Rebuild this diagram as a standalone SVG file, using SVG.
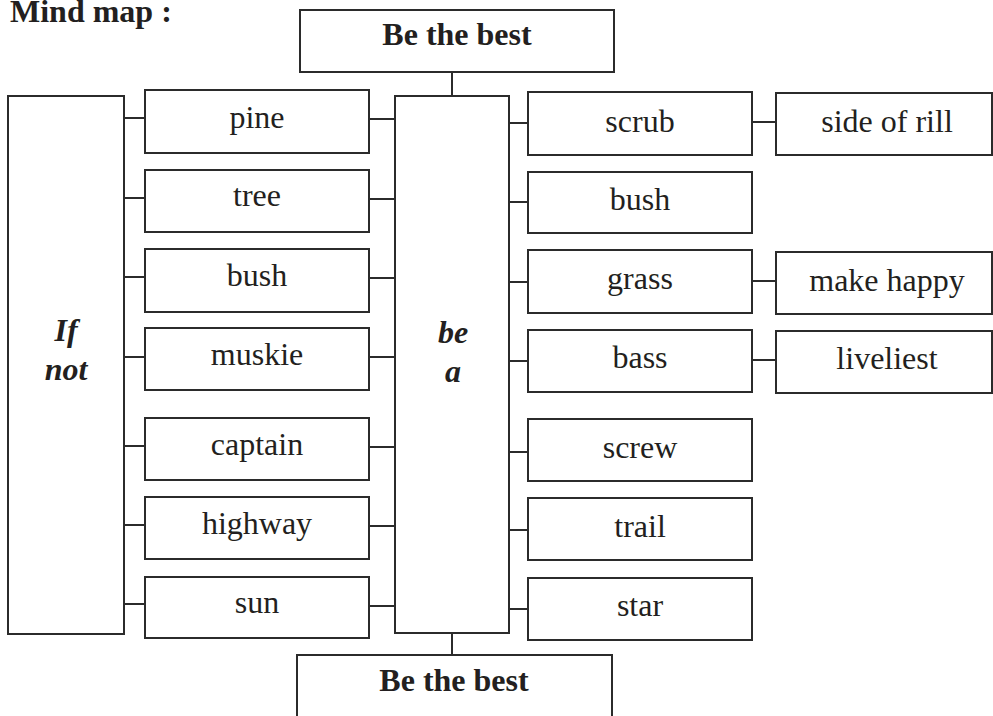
<svg xmlns="http://www.w3.org/2000/svg" width="993" height="716" viewBox="0 0 993 716">
  <style>
    .box { fill: #ffffff; stroke: #2b2b2b; stroke-width: 2; }
    .link { stroke: #2b2b2b; stroke-width: 2; fill: none; }
    .lbl { font-family: "Liberation Serif", "Times New Roman", serif; font-size: 32px; fill: #231f20; text-anchor: middle; }
    .head { font-family: "Liberation Serif", "Times New Roman", serif; font-size: 32px; font-weight: bold; fill: #231f20; }
    .key { font-family: "Liberation Serif", "Times New Roman", serif; font-size: 32px; font-weight: bold; font-style: italic; fill: #231f20; text-anchor: middle; }
  </style>
  <rect width="993" height="716" fill="#ffffff"/>

  <text class="head" x="10" y="22">Mind map :</text>

  <!-- connectors -->
  <g id="connectors">
    <!-- title boxes to centre column -->
    <line class="link" x1="452" y1="72" x2="452" y2="96"/>
    <line class="link" x1="452" y1="633" x2="452" y2="655"/>
    <!-- If-not column to left words -->
    <line class="link" x1="124" y1="118" x2="145" y2="118"/>
    <line class="link" x1="124" y1="198" x2="145" y2="198"/>
    <line class="link" x1="124" y1="277" x2="145" y2="277"/>
    <line class="link" x1="124" y1="357" x2="145" y2="357"/>
    <line class="link" x1="124" y1="446" x2="145" y2="446"/>
    <line class="link" x1="124" y1="525" x2="145" y2="525"/>
    <line class="link" x1="124" y1="604" x2="145" y2="604"/>
    <!-- left words to be-a column -->
    <line class="link" x1="369" y1="119" x2="395" y2="119"/>
    <line class="link" x1="369" y1="199" x2="395" y2="199"/>
    <line class="link" x1="369" y1="278" x2="395" y2="278"/>
    <line class="link" x1="369" y1="357" x2="395" y2="357"/>
    <line class="link" x1="369" y1="447" x2="395" y2="447"/>
    <line class="link" x1="369" y1="526" x2="395" y2="526"/>
    <line class="link" x1="369" y1="606" x2="395" y2="606"/>
    <!-- be-a column to right words -->
    <line class="link" x1="509" y1="123" x2="528" y2="123"/>
    <line class="link" x1="509" y1="202" x2="528" y2="202"/>
    <line class="link" x1="509" y1="282" x2="528" y2="282"/>
    <line class="link" x1="509" y1="361" x2="528" y2="361"/>
    <line class="link" x1="509" y1="452" x2="528" y2="452"/>
    <line class="link" x1="509" y1="530" x2="528" y2="530"/>
    <line class="link" x1="509" y1="609" x2="528" y2="609"/>
    <!-- right words to far-right words -->
    <line class="link" x1="752" y1="122" x2="776" y2="122"/>
    <line class="link" x1="752" y1="281" x2="776" y2="281"/>
    <line class="link" x1="752" y1="360" x2="776" y2="360"/>
  </g>

  <!-- title boxes -->
  <g id="top-title">
    <rect class="box" x="300" y="10" width="314" height="62"/>
    <text class="head" x="457" y="45" text-anchor="middle">Be the best</text>
  </g>
  <g id="bottom-title">
    <rect class="box" x="297" y="655" width="315" height="70"/>
    <text class="head" x="454" y="691" text-anchor="middle">Be the best</text>
  </g>

  <!-- tall columns -->
  <g id="if-not">
    <rect class="box" x="8" y="96" width="116" height="538"/>
    <text class="key" x="66" y="341">If</text>
    <text class="key" x="66" y="380">not</text>
  </g>
  <g id="be-a">
    <rect class="box" x="395" y="96" width="114" height="537"/>
    <text class="key" x="453" y="343">be</text>
    <text class="key" x="453" y="382">a</text>
  </g>

  <!-- left words -->
  <g id="pine"><rect class="box" x="145" y="90" width="224" height="63"/><text class="lbl" x="257" y="128">pine</text></g>
  <g id="tree"><rect class="box" x="145" y="170" width="224" height="62"/><text class="lbl" x="257" y="206">tree</text></g>
  <g id="bush-left"><rect class="box" x="145" y="249" width="224" height="63"/><text class="lbl" x="257" y="286">bush</text></g>
  <g id="muskie"><rect class="box" x="145" y="328" width="224" height="62"/><text class="lbl" x="257" y="365">muskie</text></g>
  <g id="captain"><rect class="box" x="145" y="418" width="224" height="62"/><text class="lbl" x="257" y="455">captain</text></g>
  <g id="highway"><rect class="box" x="145" y="497" width="224" height="62"/><text class="lbl" x="257" y="534">highway</text></g>
  <g id="sun"><rect class="box" x="145" y="577" width="224" height="61"/><text class="lbl" x="257" y="613">sun</text></g>

  <!-- right words -->
  <g id="scrub"><rect class="box" x="528" y="92" width="224" height="63"/><text class="lbl" x="640" y="132">scrub</text></g>
  <g id="bush-right"><rect class="box" x="528" y="172" width="224" height="61"/><text class="lbl" x="640" y="210">bush</text></g>
  <g id="grass"><rect class="box" x="528" y="250" width="224" height="63"/><text class="lbl" x="640" y="289">grass</text></g>
  <g id="bass"><rect class="box" x="528" y="330" width="224" height="62"/><text class="lbl" x="640" y="368">bass</text></g>
  <g id="screw"><rect class="box" x="528" y="419" width="224" height="62"/><text class="lbl" x="640" y="458">screw</text></g>
  <g id="trail"><rect class="box" x="528" y="498" width="224" height="62"/><text class="lbl" x="640" y="537">trail</text></g>
  <g id="star"><rect class="box" x="528" y="578" width="224" height="62"/><text class="lbl" x="640" y="616">star</text></g>

  <!-- far-right words -->
  <g id="side-of-rill"><rect class="box" x="776" y="93" width="216" height="62"/><text class="lbl" x="887" y="132">side of rill</text></g>
  <g id="make-happy"><rect class="box" x="776" y="252" width="216" height="62"/><text class="lbl" x="887" y="291">make happy</text></g>
  <g id="liveliest"><rect class="box" x="776" y="331" width="216" height="62"/><text class="lbl" x="887" y="369">liveliest</text></g>
</svg>
